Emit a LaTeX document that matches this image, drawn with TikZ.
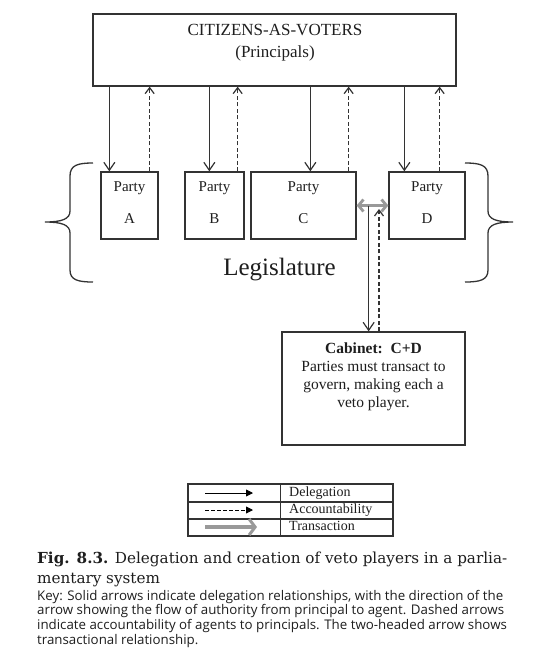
\documentclass[tikz,border=0pt]{standalone}
\usepackage{fontspec}
\setmainfont{Liberation Serif}
\newfontfamily\capfont{DejaVu Serif}
\newfontfamily\keyfont{Open Sans}
\usetikzlibrary{arrows.meta}
\definecolor{ink}{HTML}{333333}
\definecolor{txt}{HTML}{1E1E1E}
\definecolor{transgray}{HTML}{999999}
\begin{document}
\begin{tikzpicture}[x=1pt,y=-1pt,
  box/.style={draw=ink, line width=1.3pt, inner sep=0pt, fill=white},
  deleg/.style={draw=ink, line width=1.1pt, -{Straight Barb[length=8pt,width=11pt,line width=1.2pt]}},
  account/.style={draw=ink, line width=1.2pt, dash pattern=on 4pt off 2.5pt, -{Straight Barb[length=6pt,width=9pt,line width=1.2pt]}},
  transarrow/.style={draw=transgray, line width=3.5pt, {Straight Barb[length=5pt,width=12pt,line width=2.8pt]}-{Straight Barb[length=5pt,width=12pt,line width=2.8pt]}},
  legdeleg/.style={draw=black, line width=0.9pt, -{Triangle[length=7pt,width=7pt]}},
  legacc/.style={draw=black, line width=0.9pt, dash pattern=on 3.5pt off 2.5pt, -{Triangle[length=7pt,width=7pt]}},
  legtrans/.style={draw=transgray, line width=4.5pt, -{Straight Barb[length=6pt,width=16pt,line width=3pt]}},
  brace/.style={draw=ink, line width=1.3pt},
  ptext/.style={text=txt, font=\fontsize{15}{32}\selectfont, align=center, inner sep=0pt, anchor=north},
  legtext/.style={text=txt, font=\fontsize{14}{16}\selectfont, anchor=west, inner sep=0pt, text height=9.5pt, text depth=3pt}
]
\useasboundingbox (0,0) rectangle (559,662);
\fill[white] (0,0) rectangle (559,662);

% top box
\node[box, minimum width=363pt, minimum height=72pt] (top) at (274.5,50) {};
\node[text=txt, font=\fontsize{17}{22}\selectfont, align=center, inner sep=0pt, anchor=north] (toptext) at (275,24.5) {CITIZENS-AS-VOTERS\\(Principals)};

% party boxes
\node[box, minimum width=57pt, minimum height=67pt] (A) at (129.5,205.5) {};
\node[box, minimum width=59pt, minimum height=67pt] (B) at (214.5,205.5) {};
\node[box, minimum width=105pt, minimum height=67pt] (C) at (303.5,205.5) {};
\node[box, minimum width=76pt, minimum height=67pt] (D) at (427,205.5) {};
\node[ptext] (At) at (129.5,181) {Party\\A};
\node[ptext] (Bt) at (214.5,181) {Party\\B};
\node[ptext] (Ct) at (303.5,181) {Party\\C};
\node[ptext] (Dt) at (427,181) {Party\\D};

% delegation arrows
\draw[deleg] ([xshift=9pt]A.north west |- top.south) -- ([xshift=9pt]A.north west);
\draw[deleg] ([xshift=25pt]B.north west |- top.south) -- ([xshift=25pt]B.north west);
\draw[deleg] ([xshift=60pt]C.north west |- top.south) -- ([xshift=60pt]C.north west);
\draw[deleg] ([xshift=16pt]D.north west |- top.south) -- ([xshift=16pt]D.north west);
% accountability arrows
\draw[account] ([xshift=-9pt]A.north east) -- ([xshift=-9pt]A.north east |- top.south);
\draw[account] ([xshift=-7pt]B.north east) -- ([xshift=-7pt]B.north east |- top.south);
\draw[account] ([xshift=-8pt]C.north east) -- ([xshift=-8pt]C.north east |- top.south);
\draw[account] ([xshift=-26pt]D.north east) -- ([xshift=-26pt]D.north east |- top.south);

% braces
\draw[brace] (93,163) .. controls (78,163) and (70,165) .. (70,176) -- (70,211)
  .. controls (70,219) and (62,222) .. (45,222)
  .. controls (62,222) and (70,225) .. (70,233) -- (70,270)
  .. controls (70,280) and (78,282) .. (93,282);
\draw[brace] (465,163) .. controls (480,163) and (488,165) .. (488,176) -- (488,211)
  .. controls (488,219) and (496,222) .. (513,222)
  .. controls (496,222) and (488,225) .. (488,233) -- (488,270)
  .. controls (488,280) and (480,282) .. (465,282);
\node[text=txt, font=\fontsize{25}{30}\selectfont, inner sep=0pt, anchor=base] (leg) at (279.5,275) {Legislature};

% cabinet
\node[box, minimum width=183pt, minimum height=113pt] (cab) at (373.5,388.5) {};
\node[text=txt, font=\fontsize{15.5}{18}\selectfont, align=center, inner sep=0pt, anchor=north] (cabtext) at (373.5,342.5) {\textbf{Cabinet:\ \ C+D}\\Parties must transact to\\govern, making each a\\veto player.};

% transaction arrow
\draw[transarrow] (C.east) -- (D.west);
\draw[deleg] ([xshift=12pt]C.east) -- ([xshift=12pt]C.east |- cab.north);
\draw[account] ([xshift=5.5pt]cab.north) -- ([xshift=5.5pt,yshift=-3.5pt]cab.north |- C.east);

% legend
\node[box, fill=none, line width=1.2pt, draw=black!80, minimum width=205pt, minimum height=52pt] (legend) at (290.5,510) {};
\draw[draw=black!80, line width=1.2pt] ([yshift=8pt]legend.west) -- ([yshift=8pt]legend.east);
\draw[draw=black!80, line width=1.2pt] ([yshift=-9pt]legend.west) -- ([yshift=-9pt]legend.east);
\draw[draw=black!80, line width=1.2pt] ([xshift=93pt]legend.north west) -- ([xshift=93pt]legend.south west);
\coordinate (l1s) at (205,493);
\coordinate (l1e) at (253,493);
\coordinate (l2s) at (205,510);
\coordinate (l2e) at (253,510);
\coordinate (l3s) at (205,527);
\coordinate (l3e) at (257,527);
\draw[legdeleg] (l1s) -- (l1e);
\draw[legacc] (l2s) -- (l2e);
\draw[legtrans] (l3s) -- (l3e);
\node[legtext] (lt1) at (289,493) {Delegation};
\node[legtext] (lt2) at (289,510) {Accountability};
\node[legtext] (lt3) at (289,527) {Transaction};

% caption
\node[text=txt, font=\capfont\fontsize{15.2}{20}\selectfont, align=left, inner sep=0pt, anchor=north west] (cap) at (37,551.4)
  {\textbf{Fig. 8.3.} Delegation and creation of veto players in a parlia-\\mentary system};
\node[text=txt, font=\keyfont\fontsize{13.3}{14.7}\selectfont, align=left, inner sep=0pt, anchor=north west] (key) at (37,589.9)
  {Key: Solid arrows indicate delegation relationships, with the direction of the\\
   arrow showing the flow of authority from principal to agent. Dashed arrows\\
   indicate accountability of agents to principals. The two-headed arrow shows\\
   transactional relationship.};
\end{tikzpicture}
\end{document}
